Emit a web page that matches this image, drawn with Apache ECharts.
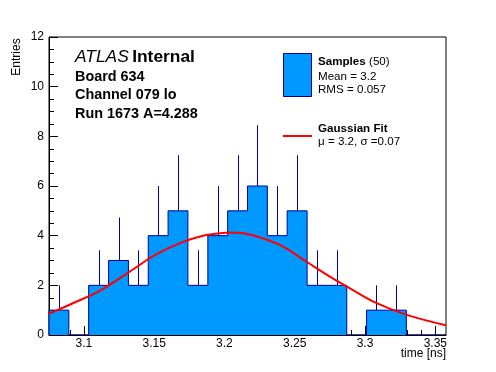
<!DOCTYPE html>
<html><head><meta charset="utf-8">
<script src="https://cdn.jsdelivr.net/npm/echarts@6/dist/echarts.min.js"></script>
<style>html,body{margin:0;padding:0;background:#fff}#c{width:496px;height:372px}</style>
</head><body><div id="c"></div>
<script>
// ---- data ----
const binEdges = [3.0752,3.0893,3.1034,3.1176,3.1317,3.1458,3.1599,3.1740,3.1882,3.2023,3.2164,
                  3.2305,3.2446,3.2588,3.2729,3.2870,3.3011,3.3152,3.3294,3.3435,3.3576];
const counts   = [1,0,2,3,2,4,5,2,4,5,6,4,5,2,2,0,1,1,0,0];
const errors   = [1,0,1.41,1.73,1.41,2,2.24,1.41,2,2.24,2.45,2,2.24,1.41,1.41,0,1,1,0,0];
const fitX = [3.075,3.0922,3.110,3.1254,3.1397,3.1504,3.168,3.182,3.197,3.204,3.2133,3.2275,3.2418,3.2584,3.275,3.2893,3.3083,3.3297,3.3576];
const fitY = [0.85,1.28,1.74,2.28,2.82,3.22,3.69,3.96,4.10,4.13,4.10,3.89,3.56,2.95,2.35,1.88,1.28,0.81,0.39];
const majorXTicks = [3.1,3.15,3.2,3.25,3.3,3.35];
const minorXTicks = [3.08,3.09,3.11,3.12,3.13,3.14,3.16,3.17,3.18,3.19,3.21,3.22,3.23,3.24,3.26,3.27,3.28,3.29,3.31,3.32,3.33,3.34];

const FONT = '"Liberation Sans", Arial, Helvetica, sans-serif';
const FILL = '#0099ff', LINE = '#000099';

// histogram outline (step) from bins
const histLine = [[binEdges[0], 0]];
counts.forEach((c, i) => histLine.push([binEdges[i], c]));
histLine.push([binEdges[binEdges.length - 1], 0]);

const errData = [];
counts.forEach((c, i) => { if (c > 0) errData.push([(binEdges[i] + binEdges[i + 1]) / 2, c, errors[i]]); });

const chart = echarts.init(document.getElementById('c'), null, {renderer: 'canvas'});
chart.setOption({
  animation: false,
  backgroundColor: '#fff',
  textStyle: {fontFamily: FONT},
  grid: {left: 49, right: 50, top: 37, bottom: 37, show: true, borderColor: '#000', borderWidth: 1, backgroundColor: '#fff'},
  xAxis: [{
    type: 'value', min: binEdges[0], max: binEdges[binEdges.length - 1], position: 'bottom',
    axisLine: {show: true, lineStyle: {color: '#000', width: 1}},
    axisTick: {show: true, inside: true, length: 9, customValues: majorXTicks, lineStyle: {color: '#000'}},
    axisLabel: {show: true, customValues: majorXTicks, color: '#000', fontSize: 12, margin: 3, fontFamily: FONT},
    splitLine: {show: false}
  }, {
    type: 'value', min: binEdges[0], max: binEdges[binEdges.length - 1], position: 'bottom',
    axisLine: {show: false},
    axisTick: {show: true, inside: true, length: 5, customValues: minorXTicks, lineStyle: {color: '#000'}},
    axisLabel: {show: false},
    splitLine: {show: false}
  }],
  yAxis: {
    type: 'value', min: 0, max: 12, interval: 2,
    axisLine: {show: true, lineStyle: {color: '#000', width: 1}},
    axisTick: {show: true, inside: true, length: 9, lineStyle: {color: '#000'}},
    minorTick: {show: true, splitNumber: 4, length: 5, lineStyle: {color: '#000'}},
    axisLabel: {color: '#000', fontSize: 12, margin: 5, fontFamily: FONT},
    splitLine: {show: false}
  },
  series: [{
    type: 'line', step: 'end', data: histLine, symbol: 'none', z: 2,
    lineStyle: {color: LINE, width: 1}, areaStyle: {color: FILL, opacity: 1}
  }, {
    type: 'custom', data: errData, z: 3,
    renderItem: function (params, api) {
      const p0 = api.coord([api.value(0), api.value(1)]);
      const p1 = api.coord([api.value(0), api.value(1) + api.value(2)]);
      const x = Math.round(p0[0]) + 0.5;
      return {type: 'line', shape: {x1: x, y1: p0[1], x2: x, y2: p1[1]}, style: {stroke: LINE, lineWidth: 1}};
    }
  }, {
    type: 'line', data: fitX.map((x, i) => [x, fitY[i]]), smooth: 0.4, symbol: 'none', z: 4,
    lineStyle: {color: '#ff0000', width: 2}
  }],
  graphic: [
    {type: 'text', x: 75, y: 57, style: {text: '{a|ATLAS} {b|Internal}', verticalAlign: 'middle',
      rich: {a: {fontStyle: 'italic', fontSize: 17.4, fontFamily: FONT, fill: '#000'}, b: {fontWeight: 'bold', fontSize: 17.4, fontFamily: FONT, fill: '#000'}}}},
    {type: 'text', x: 75, y: 77, style: {text: 'Board 634', font: 'bold 14.4px ' + FONT, fill: '#000', verticalAlign: 'middle'}},
    {type: 'text', x: 75, y: 95.5, style: {text: 'Channel 079 lo', font: 'bold 14.4px ' + FONT, fill: '#000', verticalAlign: 'middle'}},
    {type: 'text', x: 75, y: 114, style: {text: 'Run 1673 A=4.288', font: 'bold 14.4px ' + FONT, fill: '#000', verticalAlign: 'middle'}},
    {type: 'rect', shape: {x: 283.5, y: 53.5, width: 28, height: 43}, style: {fill: FILL, stroke: LINE, lineWidth: 1}},
    {type: 'text', x: 318, y: 61.5, style: {text: '{a|Samples} {b|(50)}', verticalAlign: 'middle',
      rich: {a: {fontWeight: 'bold', fontSize: 11.6, fontFamily: FONT, fill: '#000'}, b: {fontSize: 11.6, fontFamily: FONT, fill: '#000'}}}},
    {type: 'text', x: 318, y: 76.5, style: {text: 'Mean = 3.2', font: '11.6px ' + FONT, fill: '#000', verticalAlign: 'middle'}},
    {type: 'text', x: 318, y: 90, style: {text: 'RMS = 0.057', font: '11.6px ' + FONT, fill: '#000', verticalAlign: 'middle'}},
    {type: 'line', shape: {x1: 283, y1: 136, x2: 312, y2: 136}, style: {stroke: '#ff0000', lineWidth: 2}},
    {type: 'text', x: 318, y: 129, style: {text: 'Gaussian Fit', font: 'bold 11.6px ' + FONT, fill: '#000', verticalAlign: 'middle'}},
    {type: 'text', x: 318, y: 141.5, style: {text: 'μ = 3.2, σ =0.07', font: '11.6px ' + FONT, fill: '#000', verticalAlign: 'middle'}},
    {type: 'text', x: 446, y: 354, style: {text: 'time [ns]', font: '12px ' + FONT, fill: '#000', align: 'right', verticalAlign: 'middle'}},
    {type: 'text', x: 17, y: 57, rotation: Math.PI / 2, style: {text: 'Entries', font: '12px ' + FONT, fill: '#000', align: 'center', verticalAlign: 'middle'}}
  ]
});
</script></body></html>
